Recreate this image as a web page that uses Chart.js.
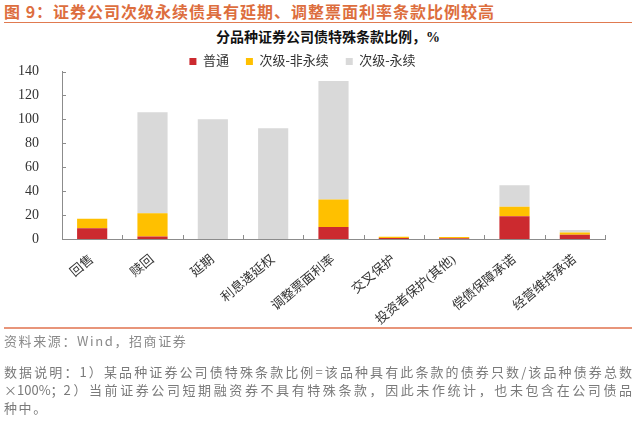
<!DOCTYPE html>
<html>
<head>
<meta charset="utf-8">
<script src="https://cdn.jsdelivr.net/npm/chart.js@4/dist/chart.umd.min.js"></script>
<style>
  html, body { margin: 0; padding: 0; background: #fff; }
  body { width: 640px; height: 421px; position: relative; overflow: hidden; font-family: "Noto Sans CJK SC", sans-serif; }
  #figTitle { position: absolute; left: 4px; top: 1px; font-size: 16px; font-weight: 700; color: #DD6E3E; letter-spacing: 1px; white-space: nowrap; line-height: 20px; }
  #topLine { position: absolute; left: 4px; top: 22px; width: 628px; height: 1px; background: #E07A50; }
  #chartTitle { position: absolute; left: 128px; width: 400px; top: 28px; text-align: center; font-family: "Liberation Serif", "Noto Sans CJK SC", serif; font-size: 14px; font-weight: 700; color: #111; line-height: 20px; }
  #wrap { position: absolute; left: 0; top: 38px; width: 640px; height: 290px; }
  #botLine { position: absolute; left: 4px; top: 327px; width: 628px; height: 2px; background: #E8957A; }
  #source { position: absolute; left: 4px; top: 332px; font-size: 13px; color: #8a8a8a; letter-spacing: 1.6px; line-height: 18px; white-space: nowrap; }
  .note { position: absolute; left: 4px; width: 628px; font-size: 13px; color: #7a7a7a; line-height: 18px; white-space: nowrap; }
  .just { text-align: justify; text-align-last: justify; }
</style>
</head>
<body>
<div id="figTitle">图 9：证券公司次级永续债具有延期、调整票面利率条款比例较高</div>
<div id="topLine"></div>
<div id="chartTitle">分品种证券公司债特殊条款比例，%</div>
<div id="wrap"><canvas id="c" width="640" height="290"></canvas></div>
<div id="botLine"></div>
<div id="source">资料来源：Wind，招商证券</div>
<div class="note just" style="top:363px;">数据说明：1）某品种证券公司债特殊条款比例=该品种具有此条款的债券只数/该品种债券总数</div>
<div class="note just" style="top:381px;">×100%；2）当前证券公司短期融资券不具有特殊条款，因此未作统计，也未包含在公司债品</div>
<div class="note" style="top:399px; letter-spacing:1.6px;">种中。</div>
<script>
const categories = ['回售', '赎回', '延期', '利息递延权', '调整票面利率', '交叉保护', '投资者保护(其他)', '偿债保障承诺', '经营维持承诺'];
const seriesNames = ['普通', '次级-非永续', '次级-永续'];
const ordinary    = [9, 2, 0, 0, 10, 0.8, 0.7, 19, 3.5];
const subNonPerp  = [8, 19.5, 0, 0, 23, 1, 0.9, 8, 2];
const subPerp     = [0, 84.5, 100, 92.5, 99, 0, 0, 18, 2];
const yTicks = [0, 20, 40, 60, 80, 100, 120, 140];

const serif = '"Liberation Serif", "Noto Sans CJK SC", serif';

const innerTicks = {
  id: 'innerTicks',
  beforeInit(chart) {
    if (chart.legend) {
      const orig = chart.legend.fit;
      chart.legend.fit = function () { orig.call(this); this.height = Math.max(0, this.height - 6.5); };
    }
  },
  afterDatasetsDraw(chart) {
    const ctx = chart.ctx;
    const xs = chart.scales.x, ys = chart.scales.y;
    const area = chart.chartArea;
    ctx.save();
    ctx.strokeStyle = '#8c8c8c';
    ctx.lineWidth = 1;
    ctx.beginPath();
    for (let i = 1; i <= categories.length; i++) {
      const px = Math.round(xs.getPixelForValue(i - 0.5)) + 0.5;
      ctx.moveTo(px, area.bottom);
      ctx.lineTo(px, area.bottom - 4);
    }
    yTicks.forEach(v => {
      const py = Math.round(ys.getPixelForValue(v)) + 0.5;
      ctx.moveTo(area.left, py);
      ctx.lineTo(area.left + 4, py);
    });
    ctx.stroke();
    ctx.restore();
  }
};

new Chart(document.getElementById('c'), {
  type: 'bar',
  data: {
    labels: categories,
    datasets: [
      { label: seriesNames[0], data: ordinary, backgroundColor: '#CC2A2F' },
      { label: seriesNames[1], data: subNonPerp, backgroundColor: '#FFC000' },
      { label: seriesNames[2], data: subPerp, backgroundColor: '#D9D9D9' }
    ]
  },
  options: {
    responsive: false,
    animation: false,
    devicePixelRatio: 1,
    layout: { padding: { left: 0, right: 35, top: 0, bottom: 0 } },
    datasets: { bar: { barPercentage: 0.5, categoryPercentage: 1.0, borderWidth: 0 } },
    plugins: {
      title: { display: false },
      tooltip: { enabled: false },
      legend: {
        display: true,
        position: 'top',
        labels: {
          boxWidth: 7, boxHeight: 7, padding: 17,
          color: '#333',
          font: { family: serif, size: 13 }
        }
      }
    },
    scales: {
      x: {
        stacked: true,
        grid: { display: false, offset: true },
        border: { display: true, color: '#8c8c8c', width: 1 },
        ticks: {
          color: '#333', font: { family: serif, size: 13 },
          maxRotation: 40, minRotation: 40, padding: 5, autoSkip: false
        },
        afterFit(scale) { scale.height = 89; }
      },
      y: {
        stacked: true,
        min: 0, max: 140,
        afterBuildTicks(scale) { scale.ticks = yTicks.map(v => ({ value: v })); },
        grid: { display: false },
        border: { display: true, color: '#8c8c8c', width: 1 },
        ticks: { color: '#333', font: { family: '"Liberation Serif"', size: 14 }, padding: 15 },
        afterFit(scale) { scale.width = 62; }
      }
    }
  },
  plugins: [innerTicks]
});
</script>
</body>
</html>
